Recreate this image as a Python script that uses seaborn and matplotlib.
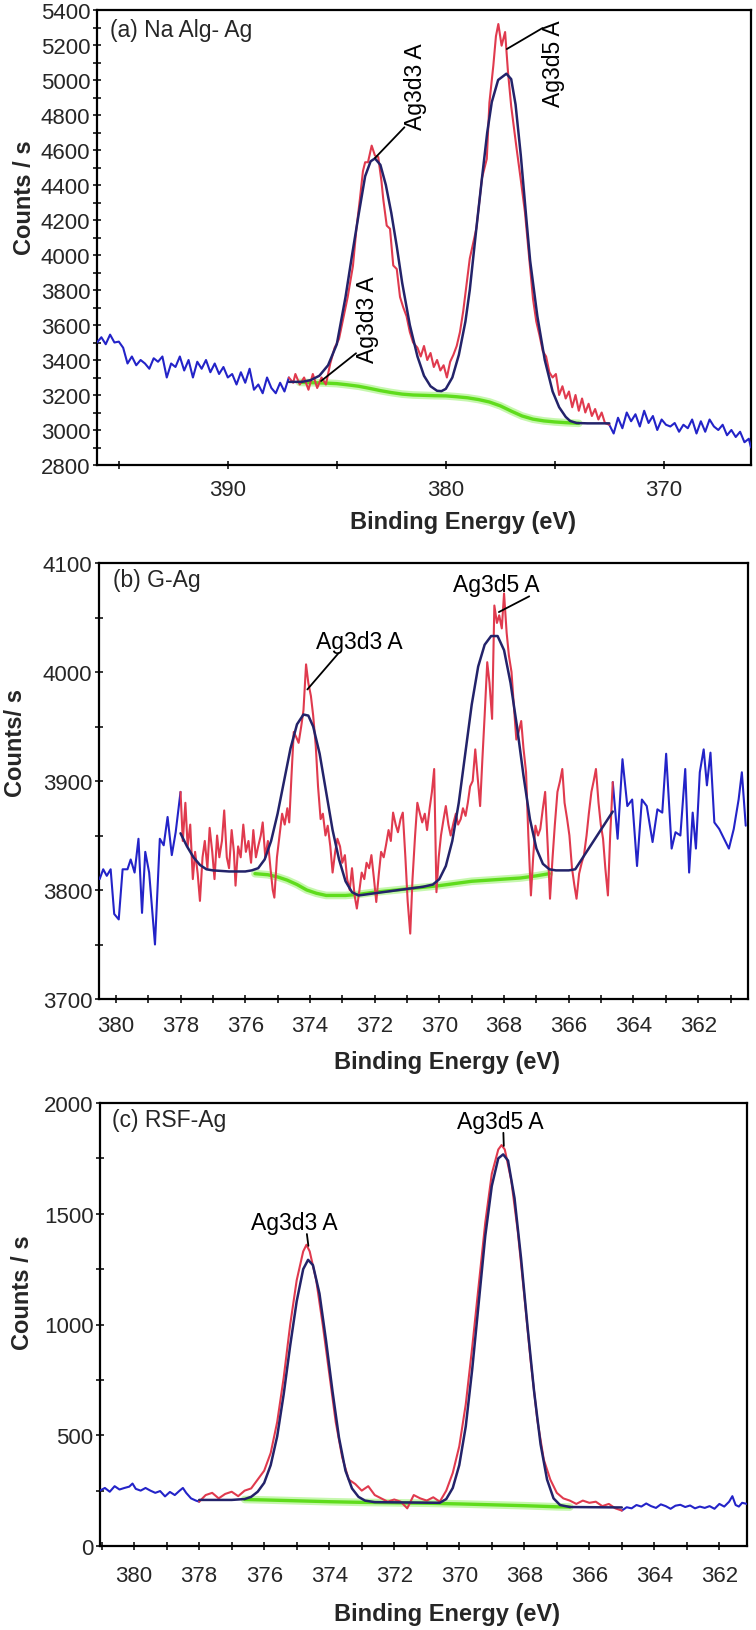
import numpy as np
import matplotlib
matplotlib.use("Agg")
import matplotlib.pyplot as plt
from matplotlib.ticker import MultipleLocator
import seaborn as sns

# ---------------- Panel (a) Na Alg- Ag ----------------
a_blue_left_e = [396.0, 395.8, 395.6, 395.4, 395.2, 395.0, 394.8, 394.6, 394.4, 394.2, 394.0, 393.8, 393.6, 393.4,
                 393.2, 393.0, 392.8, 392.6, 392.4, 392.2, 392.0, 391.8, 391.6, 391.4, 391.2, 391.0, 390.8, 390.6,
                 390.4, 390.2, 390.0, 389.8, 389.6, 389.4, 389.2, 389.0, 388.8, 388.6, 388.4, 388.2, 388.0, 387.8,
                 387.6, 387.4, 387.2]
a_blue_left_c = [3500, 3530, 3490, 3545, 3500, 3505, 3470, 3380, 3420, 3370, 3400, 3380, 3350, 3410,
                 3390, 3420, 3300, 3380, 3360, 3420, 3340, 3400, 3300, 3390, 3350, 3400, 3330, 3380,
                 3320, 3360, 3300, 3320, 3260, 3330, 3270, 3350, 3230, 3260, 3210, 3300, 3240, 3210,
                 3270, 3220, 3300]
a_red_e = [387.2, 387.0, 386.9, 386.7, 386.5, 386.3, 386.1, 385.9, 385.7, 385.5, 385.3, 385.1, 384.9, 384.7,
           384.5, 384.26, 384.1, 383.94, 383.8, 383.7, 383.57, 383.4, 383.25, 383.1, 382.95, 382.87, 382.71,
           382.56, 382.41, 382.25, 382.1, 381.95, 381.8, 381.65, 381.5, 381.3, 381.15, 381.0, 380.85, 380.7,
           380.55, 380.4, 380.25, 380.1, 379.95, 379.8, 379.65, 379.5, 379.35, 379.2, 379.05, 378.9, 378.6,
           378.34, 378.12, 378.0, 377.82, 377.7, 377.59, 377.44, 377.28, 377.15, 377.0, 376.75, 376.55,
           376.37, 376.14, 376.0, 375.85, 375.7, 375.55, 375.4, 375.25, 375.1, 374.95, 374.8, 374.65, 374.5,
           374.35, 374.2, 374.05, 373.9, 373.75, 373.6, 373.45, 373.3, 373.15, 373.0, 372.85, 372.7, 372.5]
a_red_c = [3300, 3270, 3320, 3260, 3300, 3230, 3320, 3240, 3300, 3260, 3380, 3470, 3520, 3640,
           3760, 3937, 4150, 4320, 4480, 4530, 4530, 4625, 4568, 4560, 4420, 4320, 4168,
           4150, 3940, 3920, 3760, 3700, 3650, 3560, 3500, 3470, 3420, 3480, 3400, 3440,
           3360, 3400, 3340, 3370, 3300, 3390, 3430, 3480, 3560, 3680, 3830, 3980, 4150,
           4440, 4549, 4870, 5082, 5250, 5320, 5196, 5274, 5050, 4850, 4606, 4420,
           4245, 3937, 3750, 3620, 3540, 3450, 3420, 3330, 3300, 3320, 3200, 3250, 3180,
           3220, 3130, 3200, 3110, 3180, 3100, 3150, 3080, 3120, 3060, 3100, 3040, 3030]
a_blue_right_e = [372.5, 372.3, 372.1, 371.9, 371.7, 371.5, 371.3, 371.1, 370.9, 370.7, 370.5, 370.3, 370.1,
                  369.9, 369.7, 369.5, 369.3, 369.1, 368.9, 368.7, 368.5, 368.3, 368.1, 367.9, 367.7, 367.5,
                  367.3, 367.1, 366.9, 366.7, 366.5, 366.3, 366.1, 366.0]
a_blue_right_c = [3030, 2980, 3070, 3010, 3100, 3050, 3090, 3020, 3110, 3040, 3080, 3000, 3060,
                  3030, 3020, 3040, 2990, 3030, 3010, 3060, 2980, 3050, 2990, 3060, 3020, 3000,
                  3030, 2970, 3000, 2960, 2990, 2930, 2950, 2900]
a_fit_e = [387.2, 386.6, 386.2, 385.8, 385.4, 385.0, 384.6, 384.3, 384.0, 383.7, 383.45, 383.25, 383.0,
           382.75, 382.5, 382.25, 382.0, 381.65, 381.3, 381.0, 380.7, 380.4, 380.2, 380.0, 379.7, 379.4,
           379.1, 378.9, 378.6, 378.34, 378.1, 377.89, 377.6, 377.22, 377.0, 376.8, 376.56, 376.3, 376.13,
           375.8, 375.46, 375.1, 374.8, 374.5, 374.3, 374.0, 373.5, 372.5]
a_fit_c = [3275, 3275, 3285, 3310, 3370, 3490, 3760, 4000, 4230, 4450, 4535, 4552, 4515,
           4400, 4240, 4050, 3840, 3600, 3420, 3310, 3250, 3224, 3222, 3235, 3300, 3430,
           3620, 3800, 4150, 4440, 4700, 4874, 5000, 5036, 5005, 4860, 4570, 4200, 3966,
           3650, 3400, 3220, 3130, 3075, 3052, 3040, 3038, 3038]
a_bg_e = [386.7, 386.0, 385.5, 385.0, 384.5, 384.0, 383.5, 383.0, 382.5, 382.0, 381.5, 381.0, 380.5,
          380.0, 379.5, 379.0, 378.5, 378.0, 377.5, 377.0, 376.5, 376.0, 375.5, 375.0, 374.5, 373.9]
a_bg_c = [3272, 3270, 3268, 3265, 3258, 3250, 3238, 3225, 3214, 3205, 3200, 3198, 3196,
          3195, 3190, 3184, 3174, 3160, 3138, 3108, 3080, 3062, 3052, 3046, 3042, 3038]

# ---------------- Panel (b) G-Ag ----------------
b_blue_left_e = [380.5, 380.39, 380.28, 380.16, 380.05, 379.91, 379.79, 379.64, 379.54, 379.42, 379.3, 379.19,
                 379.09, 378.97, 378.79, 378.64, 378.52, 378.4, 378.27, 378.15, 378.0]
b_blue_left_c = [3810, 3819, 3813, 3819, 3778, 3773, 3819, 3819, 3828, 3816, 3847, 3779,
                 3835, 3816, 3750, 3847, 3841, 3867, 3832, 3853, 3890]
b_red_e = [378.0, 377.93, 377.85, 377.78, 377.7, 377.62, 377.55, 377.47, 377.4, 377.32, 377.25, 377.17, 377.1,
           377.02, 376.95, 376.87, 376.8, 376.72, 376.65, 376.57, 376.5, 376.42, 376.35, 376.3, 376.22, 376.14,
           376.06, 375.98, 375.9, 375.82, 375.75, 375.67, 375.6, 375.52, 375.46, 375.38, 375.3, 375.22, 375.15,
           375.1, 375.02, 374.94, 374.86, 374.78, 374.7, 374.64, 374.57, 374.5, 374.42, 374.35, 374.27, 374.2,
           374.12, 374.05, 373.97, 373.9, 373.82, 373.75, 373.67, 373.6, 373.52, 373.45, 373.37, 373.3, 373.22,
           373.15, 373.07, 373.0, 372.92, 372.85, 372.77, 372.7, 372.62, 372.55, 372.47, 372.4, 372.32, 372.25,
           372.17, 372.1, 372.02, 371.95, 371.87, 371.8, 371.72, 371.65, 371.57, 371.5, 371.43, 371.35, 371.28,
           371.2, 371.13, 371.05, 370.98, 370.9, 370.83, 370.75, 370.68, 370.6, 370.53, 370.45, 370.38, 370.3,
           370.23, 370.16, 370.09, 370.02, 369.95, 369.87, 369.8, 369.72, 369.65, 369.56, 369.49, 369.42,
           369.34, 369.27, 369.19, 369.12, 369.05, 368.97, 368.89, 368.82, 368.74, 368.67, 368.6, 368.52,
           368.45, 368.37, 368.3, 368.22, 368.15, 368.07, 368.0, 367.92, 367.85, 367.77, 367.7, 367.62, 367.55,
           367.47, 367.4, 367.32, 367.25, 367.17, 367.1, 367.03, 366.95, 366.88, 366.8, 366.73, 366.65, 366.58,
           366.5, 366.43, 366.35, 366.27, 366.2, 366.13, 366.05, 365.98, 365.9, 365.83, 365.76, 365.68, 365.6,
           365.53, 365.45, 365.38, 365.3, 365.23, 365.16, 365.08, 365.01, 364.94, 364.87, 364.79, 364.72,
           364.64]
b_red_c = [3890, 3845, 3880, 3840, 3860, 3810, 3835, 3815, 3790, 3830, 3845, 3820, 3857,
           3835, 3810, 3850, 3830, 3845, 3873, 3830, 3820, 3855, 3835, 3804, 3840, 3830,
           3860, 3835, 3845, 3825, 3855, 3830, 3840, 3850, 3862, 3830, 3845, 3820, 3800,
           3793, 3830, 3850, 3870, 3860, 3875, 3862, 3905, 3945, 3940, 3935, 3950, 3965,
           4007, 3990, 3978, 3960, 3932, 3895, 3865, 3870, 3850, 3859, 3840, 3816, 3835,
           3847, 3840, 3825, 3832, 3810, 3800, 3820, 3795, 3783, 3800, 3816, 3810, 3825,
           3820, 3832, 3810, 3789, 3815, 3835, 3830, 3841, 3855, 3845, 3871, 3860, 3853,
           3865, 3871, 3830, 3790, 3760, 3810, 3850, 3880, 3870, 3862, 3870, 3855, 3875,
           3890, 3911, 3798, 3830, 3850, 3865, 3877, 3860, 3850, 3862, 3870, 3860,
           3865, 3875, 3868, 3880, 3895, 3900, 3929, 3905, 3877, 3920, 3960, 4009,
           3990, 3957, 4061, 4045, 4052, 4040, 4072, 4036, 4015, 4000, 3970, 3938, 3945,
           3955, 3930, 3908, 3850, 3795, 3830, 3859, 3850, 3856, 3875, 3890, 3840, 3792,
           3830, 3860, 3890, 3900, 3911, 3880, 3865, 3850, 3820, 3805, 3792, 3815, 3825,
           3832, 3850, 3870, 3890, 3900, 3911, 3880, 3860, 3847, 3820, 3795, 3850,
           3899]
b_blue_right_e = [364.64, 364.49, 364.34, 364.19, 364.04, 363.89, 363.74, 363.59, 363.41, 363.26, 363.11,
                  362.99, 362.82, 362.7, 362.55, 362.4, 362.28, 362.17, 362.07, 361.95, 361.83, 361.73,
                  361.62, 361.5, 361.35, 361.2, 361.05, 360.9, 360.75, 360.65, 360.53]
b_blue_right_c = [3899, 3847, 3920, 3877, 3883, 3822, 3883, 3877, 3844, 3874, 3871,
                  3925, 3838, 3853, 3850, 3911, 3816, 3871, 3838, 3908, 3929, 3896,
                  3926, 3862, 3856, 3847, 3838, 3856, 3883, 3908, 3859]
b_fit_e = [378.0, 377.8, 377.6, 377.4, 377.2, 377.0, 376.5, 376.0, 375.8, 375.6, 375.4, 375.2, 375.0, 374.8,
           374.6, 374.4, 374.2, 374.05, 373.9, 373.7, 373.5, 373.3, 373.1, 372.9, 372.7, 372.5, 372.0, 371.5,
           371.0, 370.5, 370.2, 370.0, 369.8, 369.6, 369.4, 369.2, 369.0, 368.8, 368.6, 368.4, 368.2, 368.0,
           367.8, 367.6, 367.4, 367.2, 367.0, 366.8, 366.6, 366.4, 366.0, 365.8, 364.64]
b_fit_c = [3852, 3840, 3830, 3823, 3819, 3818, 3817, 3817, 3818, 3820, 3828, 3845, 3870, 3900,
           3930, 3952, 3961, 3960, 3950, 3925, 3890, 3855, 3828, 3808, 3798, 3795, 3797, 3799,
           3801, 3803, 3805, 3810, 3822, 3845, 3880, 3925, 3970, 4005, 4025, 4033, 4033, 4020,
           3990, 3950, 3905, 3865, 3838, 3824, 3819, 3818, 3818, 3819, 3872]
b_bg_e = [375.7, 375.3, 375.0, 374.7, 374.4, 374.1, 373.8, 373.5, 373.2, 372.9, 372.5, 372.0, 371.0, 370.0,
          369.5, 369.0, 368.5, 368.0, 367.5, 367.0, 366.6]
b_bg_c = [3815, 3814, 3812, 3809, 3805, 3800, 3797, 3795, 3795, 3795, 3796, 3798, 3801, 3804,
          3806, 3808, 3809, 3810, 3811, 3813, 3815]

# ---------------- Panel (c) RSF-Ag ----------------
c_blue_left_e = [381.05, 380.9, 380.75, 380.6, 380.45, 380.3, 380.15, 380.05, 379.95, 379.8, 379.65, 379.5,
                 379.35, 379.2, 379.05, 378.9, 378.75, 378.6, 378.5, 378.4, 378.25, 378.1, 378.0]
c_blue_left_c = [250, 262, 245, 270, 255, 262, 268, 282, 258, 250, 262, 250,
                 240, 248, 224, 244, 230, 250, 262, 240, 215, 205, 200]
c_red_e = [378.0, 377.8, 377.6, 377.4, 377.2, 377.0, 376.8, 376.6, 376.4, 376.2, 376.0, 375.8, 375.6, 375.4,
           375.2, 375.0, 374.8, 374.7, 374.6, 374.4, 374.2, 374.0, 373.8, 373.6, 373.4, 373.2, 373.0, 372.8,
           372.6, 372.4, 372.2, 372.0, 371.8, 371.6, 371.4, 371.2, 371.0, 370.8, 370.6, 370.4, 370.2, 370.0,
           369.8, 369.6, 369.4, 369.2, 369.0, 368.8, 368.7, 368.6, 368.4, 368.2, 368.0, 367.8, 367.6, 367.4,
           367.2, 367.0, 366.8, 366.6, 366.4, 366.2, 366.0, 365.8, 365.6, 365.4, 365.2, 365.0]
c_red_c = [200, 230, 240, 215, 235, 245, 225, 250, 260, 300, 340, 420, 560, 760,
           1000, 1200, 1330, 1360, 1330, 1200, 1000, 780, 560, 400, 300, 280, 250, 270,
           230, 215, 200, 210, 200, 170, 230, 215, 205, 220, 200, 250, 330, 450,
           640, 900, 1180, 1460, 1680, 1790, 1810, 1790, 1650, 1420, 1130, 830, 570, 390,
           300, 240, 215, 205, 190, 205, 195, 200, 180, 190, 170, 160]
c_blue_right_e = [365.0, 364.85, 364.7, 364.55, 364.4, 364.25, 364.1, 363.95, 363.8, 363.65, 363.5, 363.35,
                  363.2, 363.05, 362.9, 362.75, 362.6, 362.45, 362.3, 362.15, 362.0, 361.85, 361.7, 361.6,
                  361.5, 361.4, 361.3, 361.15]
c_blue_right_c = [160, 175, 170, 185, 178, 192, 180, 172, 188, 180, 168, 182,
                  186, 176, 183, 170, 178, 172, 180, 168, 190, 178, 200, 225,
                  185, 178, 195, 190]
c_fit_e = [378.0, 377.0, 376.6, 376.4, 376.2, 376.0, 375.8, 375.6, 375.4, 375.2, 375.0, 374.8, 374.65, 374.5,
           374.3, 374.1, 373.9, 373.7, 373.5, 373.3, 373.1, 372.9, 372.6, 370.6, 370.4, 370.2, 370.0, 369.8,
           369.6, 369.4, 369.2, 369.0, 368.8, 368.65, 368.5, 368.3, 368.1, 367.9, 367.7, 367.5, 367.3, 367.1,
           366.9, 366.6, 365.0]
c_fit_c = [208, 208, 212, 222, 245, 285, 365, 495, 685, 905, 1105, 1250, 1292, 1268,
           1140, 930, 700, 490, 340, 260, 222, 205, 198, 195, 212, 262, 365, 540,
           800, 1100, 1400, 1625, 1750, 1768, 1740, 1570, 1300, 990, 700, 460, 300, 215,
           185, 176, 174]
c_bg_e = [376.6, 376.0, 375.0, 374.0, 373.0, 372.0, 371.0, 370.0, 369.0, 368.0, 367.0, 366.6]
c_bg_c = [210, 208, 204, 200, 197, 195, 193, 190, 186, 182, 177, 176]

# ---------------- Style ----------------
sns.set_style("ticks")
plt.rcParams["font.family"] = ["Liberation Sans", "DejaVu Sans"]

BLUE = "#2323c8"
RED = "#e03a4e"
NAVY = "#23236a"
GREEN = "#5fdc1c"

fig = plt.figure(figsize=(7.56, 16.31), dpi=100)
W, H = 756.0, 1631.0


def add_ax(left, right, top, bottom):
    return fig.add_axes([left / W, 1 - bottom / H, (right - left) / W, (bottom - top) / H])


def line(ax, e, c, color, lw, z, alpha=1.0):
    sns.lineplot(x=e, y=c, ax=ax, color=color, lw=lw, sort=False, estimator=None,
                 zorder=z, alpha=alpha, legend=False)


def draw_panel(ax, bl, red, br, fit, bg):
    line(ax, bg[0], bg[1], "#b8f59a", 5.5, 2, 0.8)
    line(ax, bg[0], bg[1], GREEN, 2.4, 2.1)
    line(ax, bl[0], bl[1], BLUE, 1.5, 3)
    line(ax, br[0], br[1], BLUE, 1.5, 3)
    line(ax, red[0], red[1], RED, 1.5, 3.5)
    line(ax, fit[0], fit[1], NAVY, 1.8, 4)


def style_ax(ax, xpad, xlab_xy, ylab, ylab_xy):
    for s in ax.spines.values():
        s.set_linewidth(1.6)
        s.set_color("black")
    ax.tick_params(which="both", direction="inout", length=5.5, width=1.3, labelsize=16,
                   top=False, right=False)
    ax.tick_params(axis="x", which="both", pad=xpad)
    ax.tick_params(axis="y", which="both", pad=2)
    ax.set_xlabel("Binding Energy (eV)", fontsize=17, fontweight="bold")
    ax.xaxis.set_label_coords(*xlab_xy)
    ax.set_ylabel(ylab, fontsize=17, fontweight="bold")
    ax.yaxis.set_label_coords(*ylab_xy)


anno_kw = dict(fontsize=16.5, color="black", zorder=6)


def leader(relpos):
    return dict(arrowstyle="-", color="black", lw=1.3, relpos=relpos, patchA=None,
                shrinkA=0, shrinkB=0)


# Panel (a)
axa = add_ax(97, 751, 11, 466)
draw_panel(axa, (a_blue_left_e, a_blue_left_c), (a_red_e, a_red_c),
           (a_blue_right_e, a_blue_right_c), (a_fit_e, a_fit_c), (a_bg_e, a_bg_c))
axa.set_xlim(396, 366)
axa.set_ylim(2800, 5400)
axa.xaxis.set_major_locator(MultipleLocator(10))
axa.xaxis.set_minor_locator(MultipleLocator(5))
axa.yaxis.set_major_locator(MultipleLocator(200))
axa.yaxis.set_minor_locator(MultipleLocator(100))
style_ax(axa, 7, (0.56, -0.099), "Counts / s", (-0.093, 0.589))
axa.text(0.02, 0.982, "(a) Na Alg- Ag", transform=axa.transAxes, ha="left", va="top", fontsize=16.5)
axa.annotate("Ag3d3 A", xy=(383.25, 4554), xytext=(381.37, 4720), rotation=90, ha="center",
             va="bottom", arrowprops=leader((0.0, 0.02)), **anno_kw)
axa.annotate("Ag3d5 A", xy=(377.2, 5177), xytext=(375.04, 4851), rotation=90, ha="center",
             va="bottom", arrowprops=leader((0.0, 0.9)), **anno_kw)
axa.annotate("Ag3d3 A", xy=(385.72, 3280), xytext=(383.59, 3389), rotation=90, ha="center",
             va="bottom", arrowprops=leader((0.0, 0.1)), **anno_kw)

# Panel (b)
axb = add_ax(99, 748, 564, 1000)
draw_panel(axb, (b_blue_left_e, b_blue_left_c), (b_red_e, b_red_c),
           (b_blue_right_e, b_blue_right_c), (b_fit_e, b_fit_c), (b_bg_e, b_bg_c))
axb.set_xlim(380.52, 360.46)
axb.set_ylim(3700, 4100)
axb.xaxis.set_major_locator(MultipleLocator(2))
axb.xaxis.set_minor_locator(MultipleLocator(1))
axb.yaxis.set_major_locator(MultipleLocator(100))
axb.yaxis.set_minor_locator(MultipleLocator(50))
style_ax(axb, 9, (0.536, -0.117), "Counts/ s", (-0.111, 0.589))
axb.text(0.021, 0.989, "(b) G-Ag", transform=axb.transAxes, ha="left", va="top", fontsize=16.5)
axb.annotate("Ag3d3 A", xy=(374.08, 3984), xytext=(372.47, 4022), ha="center", va="baseline",
             arrowprops=leader((0.26, 0.0)), **anno_kw)
axb.annotate("Ag3d5 A", xy=(368.16, 4055), xytext=(368.24, 4074), ha="center", va="baseline",
             arrowprops=leader((0.88, 0.0)), **anno_kw)

# Panel (c)
axc = add_ax(100, 747, 1104, 1547)
draw_panel(axc, (c_blue_left_e, c_blue_left_c), (c_red_e, c_red_c),
           (c_blue_right_e, c_blue_right_c), (c_fit_e, c_fit_c), (c_bg_e, c_bg_c))
axc.set_xlim(381.05, 361.15)
axc.set_ylim(0, 2000)
axc.xaxis.set_major_locator(MultipleLocator(2))
axc.xaxis.set_minor_locator(MultipleLocator(1))
axc.yaxis.set_major_locator(MultipleLocator(500))
axc.yaxis.set_minor_locator(MultipleLocator(250))
style_ax(axc, 11, (0.536, -0.126), "Counts / s", (-0.102, 0.573))
axc.text(0.019, 0.989, "(c) RSF-Ag", transform=axc.transAxes, ha="left", va="top", fontsize=16.5)
axc.annotate("Ag3d3 A", xy=(374.64, 1355), xytext=(375.06, 1431), ha="center", va="baseline",
             arrowprops=leader((0.64, 0.0)), **anno_kw)
axc.annotate("Ag3d5 A", xy=(368.63, 1806), xytext=(368.75, 1888), ha="center", va="baseline",
             arrowprops=leader((0.54, 0.0)), **anno_kw)

fig.savefig("out.png", dpi=100, facecolor="white")
